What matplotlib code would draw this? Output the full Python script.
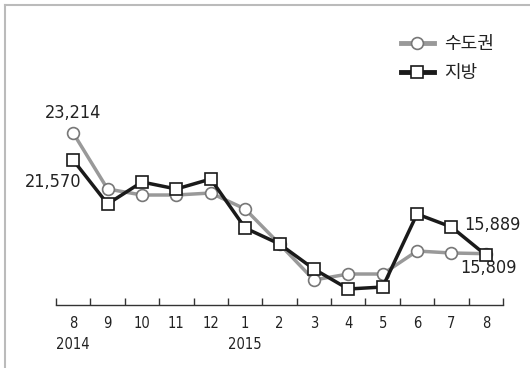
import matplotlib
matplotlib.use('Agg')
import matplotlib.pyplot as plt
from matplotlib.lines import Line2D

plt.rcParams['font.family'] = ['DejaVu Sans', 'Noto Sans CJK KR']
plt.rcParams['font.stretch'] = 'condensed'

# Data (monthly, Aug 2014 - Aug 2015)
months = ['8\n2014', '9', '10', '11', '12', '1\n2015', '2', '3', '4', '5', '6', '7', '8']
capital = [23214, 19815, 19450, 19450, 19572, 18601, 16476, 14291, 14655, 14655, 16051, 15930, 15889]
local = [21570, 18904, 20240, 19815, 20422, 17448, 16476, 14959, 13745, 13866, 18297, 17508, 15809]
names = ['수도권', '지방']

W, H = 530, 368
fig = plt.figure(figsize=(W / 100, H / 100), dpi=100)

# pixel geometry of plot area
left_px, right_px, bottom_px, top_px = 56, 503, 305, 20
ax = fig.add_axes([left_px / W, 1 - bottom_px / H, (right_px - left_px) / W, (bottom_px - top_px) / H])

x = list(range(len(months)))
ax.plot(x, capital, color='#999999', lw=2.5, marker='o', ms=8.5, mfc='white', mec='#777777', mew=1.2,
        label=names[0], zorder=3)
ax.plot(x, local, color='#1a1a1a', lw=2.5, marker='s', ms=8.5, mfc='white', mec='#1a1a1a', mew=1.2,
        label=names[1], zorder=4)

per_px = (23214 - 15809) / (255 - 133)
ax.set_ylim(23214 - (bottom_px - 133) * per_px, 23214 + (133 - top_px) * per_px)
ax.set_xlim(-0.5, len(months) - 0.5)

for s in ['top', 'right', 'left']:
    ax.spines[s].set_visible(False)
ax.spines['bottom'].set_color('#333333')
ax.spines['bottom'].set_linewidth(1.0)
ax.set_yticks([])

ax.set_xticks(x)
ax.set_xticklabels(months, fontsize=10.5, color='#222222', linespacing=1.5, va='top')
ax.tick_params(axis='x', which='major', length=0, pad=8)
ax.set_xticks([i - 0.5 for i in range(len(months) + 1)], minor=True)
ax.tick_params(axis='x', which='minor', direction='in', length=5, width=1, color='#333333')

lab = dict(textcoords='offset pixels', va='center', fontsize=13, color='#222222')
ax.annotate('23,214', (0, capital[0]), xytext=(0, 20), ha='center', **lab)
ax.annotate('21,570', (0, local[0]), xytext=(8, -22), ha='right', **lab)
ax.annotate('15,889', (12, capital[-1]), xytext=(-22, 29), ha='left', **lab)
ax.annotate('15,809', (12, local[-1]), xytext=(-26, -13), ha='left', **lab)

leg = ax.legend(loc='upper left', bbox_to_anchor=((401 - left_px) / (right_px - left_px), 1 - (35 - top_px) / (bottom_px - top_px)),
                frameon=False, fontsize=13, handlelength=1.8, handletextpad=0.6, labelspacing=0.6,
                borderaxespad=0, borderpad=0)
for t in leg.get_texts():
    t.set_fontfamily(['Noto Sans CJK KR', 'DejaVu Sans'])
    t.set_color('#222222')
for h in leg.legend_handles:
    h.set_linewidth(3.5)

# light border at top and left of the figure
fig.add_artist(Line2D([5 / W, 5 / W], [0, 1 - 5 / H], transform=fig.transFigure, color='#bbbbbb', lw=1.5))
fig.add_artist(Line2D([5 / W, 1], [1 - 5 / H, 1 - 5 / H], transform=fig.transFigure, color='#bbbbbb', lw=1.5))

fig.savefig('out.png', dpi=100)
